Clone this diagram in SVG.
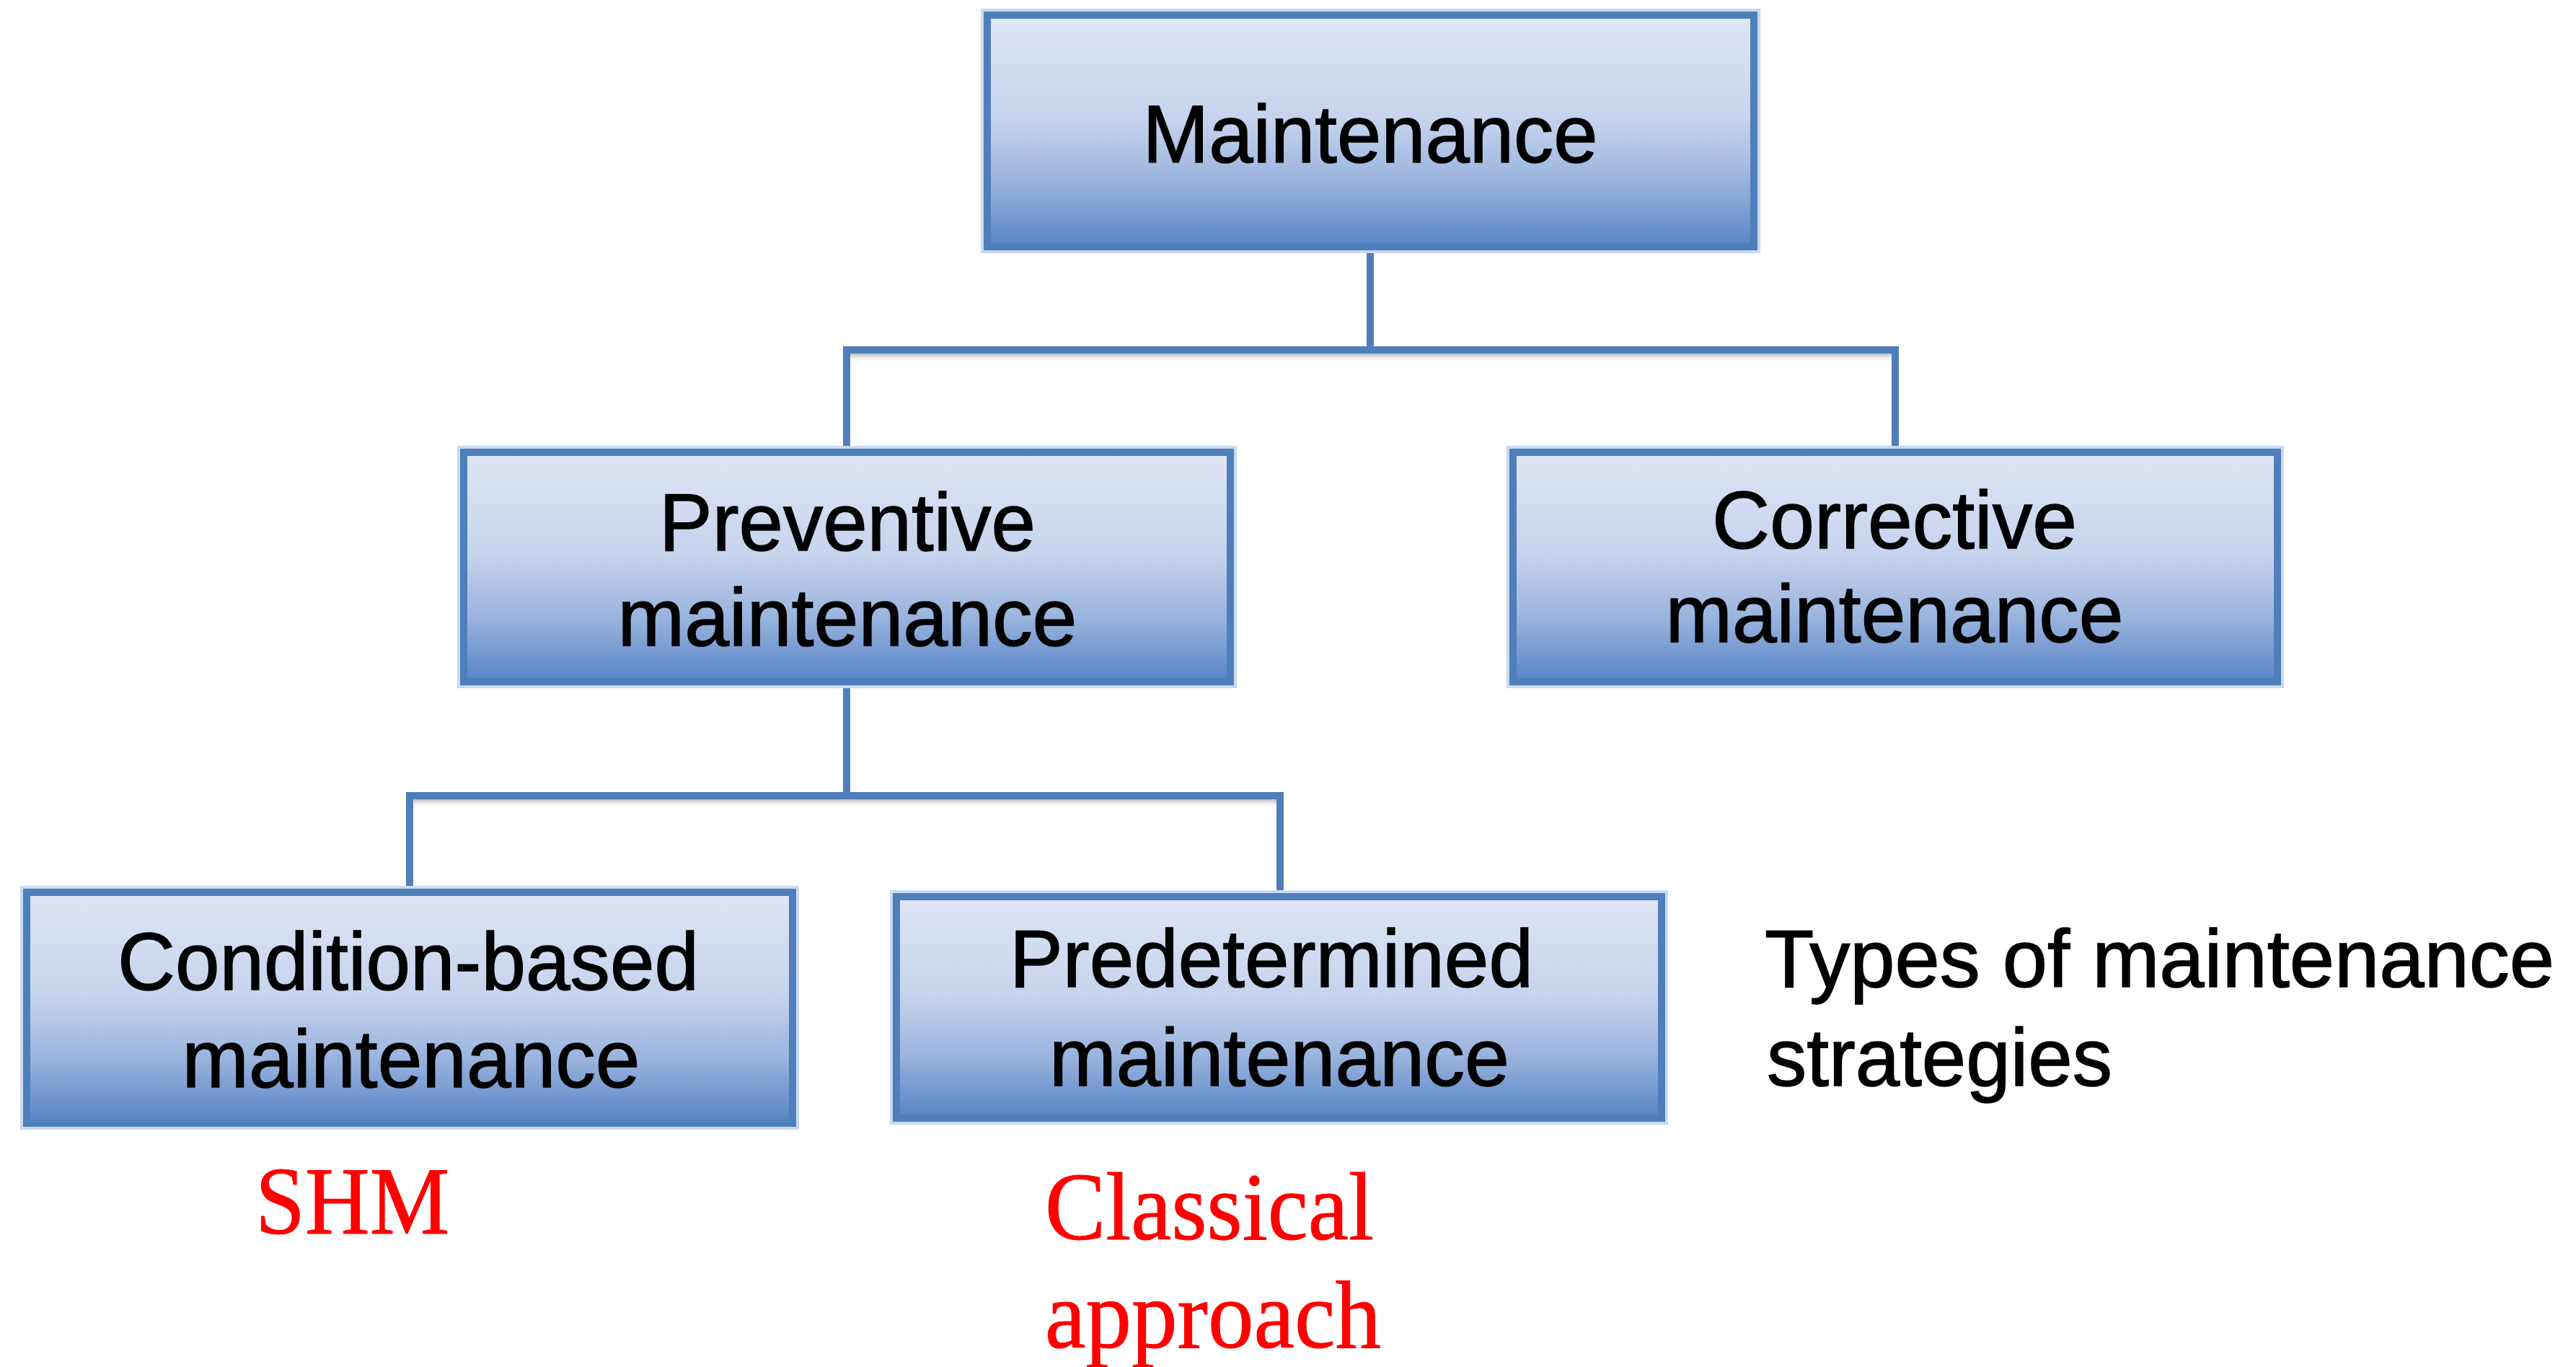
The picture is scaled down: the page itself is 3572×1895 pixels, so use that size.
<svg xmlns="http://www.w3.org/2000/svg" width="3572" height="1895" viewBox="0 0 3572 1895">
  <defs>
    <linearGradient id="boxFill" x1="0" y1="0" x2="0" y2="1">
      <stop offset="0" stop-color="#dfe6f5"/>
      <stop offset="0.45" stop-color="#c6d3ed"/>
      <stop offset="0.72" stop-color="#9ab3de"/>
      <stop offset="1" stop-color="#5584c4"/>
    </linearGradient>
    <linearGradient id="shadow" x1="0" y1="0" x2="0" y2="1">
      <stop offset="0" stop-color="#9a9a9a" stop-opacity="0.7"/>
      <stop offset="1" stop-color="#ffffff" stop-opacity="0"/>
    </linearGradient>
  </defs>
  <style>
    .box { fill: url(#boxFill); stroke: #4f7fba; stroke-width: 10; }
    .halo { fill: none; stroke: #c9daf0; stroke-width: 4; }
    .conn { fill: none; stroke: #4f7fba; stroke-width: 10; stroke-linejoin: miter; }
    .lbl { font-family: "Liberation Sans", Arial, sans-serif; font-size: 114px; fill: #000; stroke: #000; stroke-width: 1.5; text-anchor: middle; }
    .note { font-family: "Liberation Sans", Arial, sans-serif; font-size: 114px; fill: #000; stroke: #000; stroke-width: 1.5; }
    .red { font-family: "Liberation Serif", "Times New Roman", serif; font-size: 133px; fill: #ff0000; stroke: #ff0000; stroke-width: 1; }
  </style>
  <rect width="3572" height="1895" fill="#ffffff"/>

  <g id="connectors">
    <rect x="1174" y="490" width="1454" height="12" fill="url(#shadow)"/>
    <rect x="568" y="1108" width="1207" height="12" fill="url(#shadow)"/>
    <path class="conn" d="M1900 342 V485"/>
    <path class="conn" d="M1174 627 V485 H2628 V627"/>
    <path class="conn" d="M1174 945 V1103"/>
    <path class="conn" d="M568 1237 V1103 H1775 V1243"/>
  </g>

  <g id="node-maintenance">
    <rect class="halo" x="1362" y="14" width="1077" height="335"/>
    <rect class="box" x="1369" y="21" width="1063" height="321"/>
    <text class="lbl" x="1900" y="225" textLength="631" lengthAdjust="spacingAndGlyphs">Maintenance</text>
  </g>

  <g id="node-preventive">
    <rect class="halo" x="636" y="620" width="1077" height="332"/>
    <rect class="box" x="643" y="627" width="1063" height="318"/>
    <text class="lbl" x="1175" y="763" textLength="522" lengthAdjust="spacingAndGlyphs">Preventive</text>
    <text class="lbl" x="1175" y="895" textLength="637" lengthAdjust="spacingAndGlyphs">maintenance</text>
  </g>

  <g id="node-corrective">
    <rect class="halo" x="2091" y="620" width="1074" height="332"/>
    <rect class="box" x="2098" y="627" width="1060" height="318"/>
    <text class="lbl" x="2627" y="760" textLength="506" lengthAdjust="spacingAndGlyphs">Corrective</text>
    <text class="lbl" x="2627" y="890" textLength="635" lengthAdjust="spacingAndGlyphs">maintenance</text>
  </g>

  <g id="node-condition">
    <rect class="halo" x="30" y="1230" width="1076" height="334"/>
    <rect class="box" x="37" y="1237" width="1062" height="320"/>
    <text class="lbl" x="566" y="1372" textLength="806" lengthAdjust="spacingAndGlyphs">Condition-based</text>
    <text class="lbl" x="570" y="1507" textLength="635" lengthAdjust="spacingAndGlyphs">maintenance</text>
  </g>

  <g id="node-predetermined">
    <rect class="halo" x="1236" y="1236" width="1075" height="321"/>
    <rect class="box" x="1243" y="1243" width="1061" height="307"/>
    <text class="lbl" x="1763" y="1368" textLength="726" lengthAdjust="spacingAndGlyphs">Predetermined</text>
    <text class="lbl" x="1774" y="1505" textLength="638" lengthAdjust="spacingAndGlyphs">maintenance</text>
  </g>

  <g id="caption">
    <text class="note" x="2447" y="1368" textLength="1095" lengthAdjust="spacingAndGlyphs">Types of maintenance</text>
    <text class="note" x="2450" y="1505" textLength="479" lengthAdjust="spacingAndGlyphs">strategies</text>
  </g>

  <g id="label-shm">
    <text class="red" x="354" y="1710" textLength="269" lengthAdjust="spacingAndGlyphs">SHM</text>
  </g>

  <g id="label-classical">
    <text class="red" x="1449" y="1718" textLength="456" lengthAdjust="spacingAndGlyphs">Classical</text>
    <text class="red" x="1449" y="1868" textLength="466" lengthAdjust="spacingAndGlyphs">approach</text>
  </g>
</svg>
